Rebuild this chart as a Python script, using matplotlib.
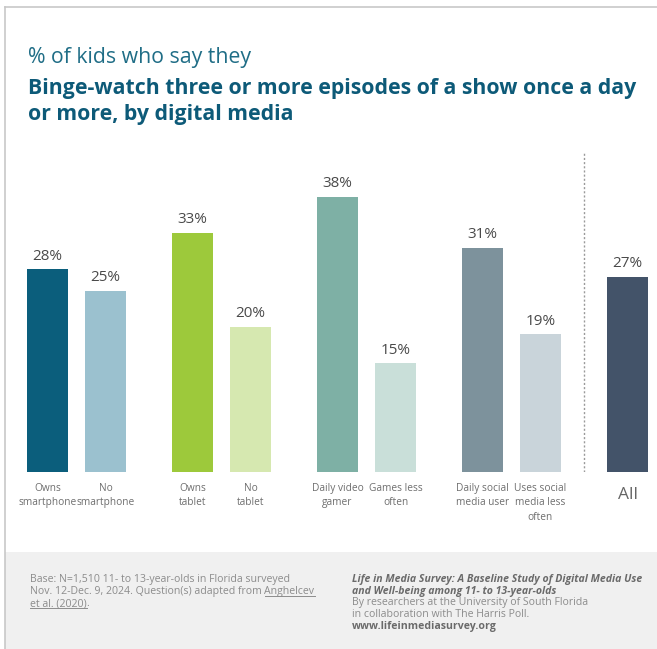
import numpy as np
import matplotlib.pyplot as plt
from matplotlib.patches import Rectangle
from matplotlib.lines import Line2D

plt.rcParams['font.family'] = ['Open Sans', 'DejaVu Sans']

# ---------- data ----------
categories = ["Owns\nsmartphone", "No\nsmartphone", "Owns\ntablet", "No\ntablet",
              "Daily video\ngamer", "Games less\noften", "Daily social\nmedia user",
              "Uses social\nmedia less\noften", "All"]
values = [28, 25, 33, 20, 38, 15, 31, 19, 27]
group_of = [0, 0, 1, 1, 2, 2, 3, 3, 4]
slot_in_group = [0, 1, 0, 1, 0, 1, 0, 1, 0]
colors = ["#0b5e7c", "#9bc1cf", "#9dc93b", "#d6e8b0", "#7eb0a5",
          "#c9dfd9", "#7d929c", "#c9d4da", "#435369"]

W, H = 657, 649
fig = plt.figure(figsize=(W / 100, H / 100), dpi=100)
fig.patch.set_facecolor("white")

def fx(px):
    return px / W

def fy(py):
    return 1 - py / H

# ---------- frame + footer band ----------
fig.add_artist(Rectangle((fx(5), 0), 1 - fx(5), fy(552), transform=fig.transFigure,
                         facecolor="#f0f0f0", edgecolor="none", zorder=0))
fig.add_artist(Line2D([fx(5), fx(5)], [0, fy(7)], transform=fig.transFigure,
                      color="#c8c8c8", lw=1.2))
fig.add_artist(Line2D([fx(5), 1], [fy(7), fy(7)], transform=fig.transFigure,
                      color="#c8c8c8", lw=1.2))

# ---------- titles ----------
fig.text(fx(28), fy(63), "% of kids who say they", fontsize=15.3,
         color="#1f6d86", va="baseline", ha="left")
fig.text(fx(28), fy(94), "Binge-watch three or more episodes of a show once a day",
         fontsize=15.3, fontweight="bold", color="#0d5a78", va="baseline", ha="left")
fig.text(fx(28), fy(120), "or more, by digital media",
         fontsize=15.3, fontweight="bold", color="#0d5a78", va="baseline", ha="left")

# ---------- bars ----------
px_per_unit = 58.0
px_per_pct = 7.24
zero_y = 472
top_y = 150
x0_px = 47.5
ax = fig.add_axes([0, fy(zero_y), 1, (zero_y - top_y) / H])
ax.set_xlim(-x0_px / px_per_unit, (W - x0_px) / px_per_unit)
ax.set_ylim(0, (zero_y - top_y) / px_per_pct)
ax.axis("off")

pos = np.array(group_of) * 2.5 + np.array(slot_in_group)
ax.bar(pos, values, width=0.7, color=colors, zorder=2)

for x, v, lab in zip(pos, values, categories):
    ax.annotate(f"{v}%", (x, v), xytext=(0, 7), textcoords="offset points",
                ha="center", va="baseline", fontsize=11, color="#4a4a4a")
    if lab == "All":
        ax.annotate(lab, (x, 0), xytext=(0, -11), textcoords="offset points",
                    ha="center", va="top", fontsize=12.5, color="#666666",
                    annotation_clip=False)
    else:
        ax.annotate(lab, (x, 0), xytext=(0, -8), textcoords="offset points",
                    ha="center", va="top", fontsize=7.3, color="#6e6e6e",
                    linespacing=1.4, annotation_clip=False)

# dotted divider before the overall bar
div_x = (pos[-2] + pos[-1]) / 2
ax.vlines(div_x, 0, (zero_y - 152) / px_per_pct, colors="#9a9a9a",
          linestyles=(0, (1.5, 1.5)), lw=1)

# ---------- footer ----------
src_kw = dict(fontsize=7.6, color="#8c8c8c", va="baseline", ha="left")
fig.text(fx(30), fy(582), "Base: N=1,510 11- to 13-year-olds in Florida surveyed", **src_kw)
t2 = fig.text(fx(30), fy(594), "Nov. 12-Dec. 9, 2024. Question(s) adapted from ", **src_kw)
fig.canvas.draw()
r = fig.canvas.get_renderer()
bb = t2.get_window_extent(r)
t3 = fig.text(bb.x1 / W, fy(594), "Anghelcev", **src_kw)
t4 = fig.text(fx(30), fy(606), "et al. (2020)", **src_kw)
t5 = fig.text(0, fy(606), ".", **src_kw)
fig.canvas.draw()
bb4 = t4.get_window_extent(r)
t5.set_x(bb4.x1 / W)
for t, yb in ((t3, 594), (t4, 606)):
    b = t.get_window_extent(r)
    fig.add_artist(Line2D([b.x0 / W, b.x1 / W], [fy(yb + 1.5), fy(yb + 1.5)],
                          transform=fig.transFigure, color="#8c8c8c", lw=0.7))

fig.text(fx(352), fy(582), "Life in Media Survey: A Baseline Study of Digital Media Use",
         fontsize=7.6, fontweight="bold", style="italic", color="#6a6a6a", va="baseline")
fig.text(fx(352), fy(594), "and Well-being among 11- to 13-year-olds",
         fontsize=7.6, fontweight="bold", style="italic", color="#6a6a6a", va="baseline")
fig.text(fx(352), fy(605), "By researchers at the University of South Florida",
         fontsize=7.6, color="#8c8c8c", va="baseline")
fig.text(fx(352), fy(617), "in collaboration with The Harris Poll.",
         fontsize=7.6, color="#8c8c8c", va="baseline")
fig.text(fx(352), fy(629), "www.lifeinmediasurvey.org",
         fontsize=7.6, fontweight="bold", color="#6a6a6a", va="baseline")

fig.savefig("out.png", dpi=100)
